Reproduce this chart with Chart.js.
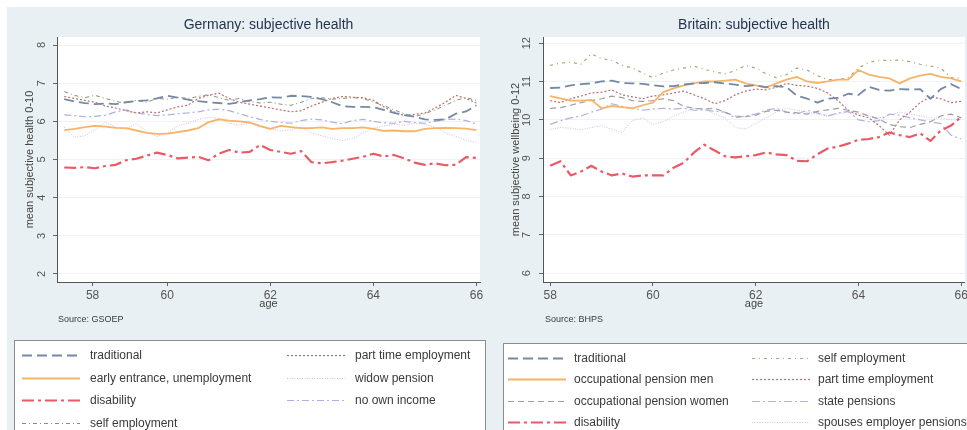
<!DOCTYPE html>
<html>
<head>
<meta charset="utf-8">
<script src="https://cdn.jsdelivr.net/npm/chart.js@4.4.1/dist/chart.umd.min.js"></script>
<style>
  html, body { margin: 0; padding: 0; background: #ffffff; width: 967px; height: 430px; overflow: hidden; }
  #wrap { position: relative; width: 967px; height: 430px; overflow: hidden; }
  canvas { position: absolute; top: 0; }
  #de { left: 0; }
  #gb { left: 490px; }
</style>
</head>
<body>
<div id="wrap">
  <canvas id="de" width="490" height="430"></canvas>
  <canvas id="gb" width="480" height="430"></canvas>
</div>
<script>
// Age grid shared by both panels
const ages = [58.0, 58.2, 58.4, 58.6, 58.8, 59.0, 59.2, 59.4, 59.6, 59.8,
              60.0, 60.2, 60.4, 60.6, 60.8, 61.0, 61.2, 61.4, 61.6, 61.8,
              62.0, 62.2, 62.4, 62.6, 62.8, 63.0, 63.2, 63.4, 63.6, 63.8,
              64.0, 64.2, 64.4, 64.6, 64.8, 65.0, 65.2, 65.4, 65.6, 65.8,
              66.0];

// Germany (GSOEP): mean subjective health 0-10
const deTraditional = [6.58,6.52,6.48,6.45,6.47,6.45,6.5,6.53,6.55,6.6, 6.67,6.62,6.57,6.53,6.5,6.48,6.46,6.5,6.55,6.58, 6.63,6.62,6.67,6.66,6.64,6.58,6.5,6.4,6.38,6.38, 6.37,6.3,6.22,6.16,6.12,6.05,6.04,6.05,6.2,6.26, 6.42];
const deEarly       = [5.77,5.8,5.85,5.88,5.86,5.83,5.82,5.76,5.7,5.67, 5.68,5.72,5.76,5.82,5.98,6.05,6.02,6.0,5.97,5.88, 5.8,5.88,5.85,5.82,5.82,5.84,5.8,5.82,5.82,5.84, 5.8,5.75,5.76,5.74,5.74,5.8,5.82,5.83,5.82,5.81, 5.77];
const deDisability  = [4.79,4.78,4.8,4.77,4.83,4.86,4.98,5.02,5.1,5.18, 5.12,5.03,5.05,5.07,4.98,5.15,5.25,5.18,5.2,5.38, 5.25,5.2,5.15,5.22,4.93,4.9,4.93,4.97,5.02,5.07, 5.15,5.08,5.12,5.03,4.92,4.86,4.9,4.85,4.86,5.06, 5.04];
const deSelf        = [6.78,6.68,6.62,6.68,6.6,6.52,6.48,6.55,6.5,6.6, 6.58,6.63,6.6,6.65,6.7,6.62,6.55,6.6,6.52,6.48, 6.5,6.45,6.42,6.5,6.6,6.62,6.58,6.6,6.62,6.6, 6.5,6.42,6.3,6.2,6.12,6.2,6.3,6.42,6.55,6.62, 6.55];
const dePartTime    = [6.65,6.6,6.55,6.5,6.4,6.35,6.28,6.22,6.25,6.22, 6.3,6.38,6.42,6.6,6.68,6.74,6.6,6.5,6.45,6.4, 6.35,6.3,6.25,6.28,6.4,6.5,6.6,6.65,6.63,6.62, 6.55,6.38,6.25,6.15,6.18,6.22,6.35,6.5,6.68,6.6, 6.48];
const deWidow       = [5.85,5.58,5.62,5.78,5.98,5.85,5.8,5.95,5.75,5.6, 5.7,5.88,5.95,6.05,6.1,6.08,5.95,5.9,5.95,5.85, 5.8,5.75,5.78,5.85,5.7,5.62,5.55,5.5,5.55,5.7, 5.82,5.88,5.92,5.9,5.95,5.92,5.85,5.7,5.6,5.5, 5.45];
const deNoIncome    = [6.17,6.15,6.12,6.13,6.16,6.25,6.3,6.22,6.18,6.15, 6.17,6.2,6.22,6.25,6.3,6.32,6.28,6.2,6.12,6.05, 6.0,5.97,5.95,6.02,6.06,6.04,5.98,5.94,6.02,6.05, 6.0,5.96,5.95,6.0,5.97,5.95,6.0,6.05,6.06,6.02, 5.93];

// Britain (BHPS): mean subjective wellbeing 0-12
const gbTraditional = [10.83,10.84,10.9,10.93,10.95,11.0,11.02,10.96,10.95,10.94, 10.9,10.87,10.88,10.92,10.95,10.96,10.98,10.95,10.92,10.88, 10.9,10.85,10.88,10.85,10.63,10.55,10.45,10.55,10.57,10.68, 10.65,10.86,10.78,10.76,10.8,10.79,10.8,10.55,10.8,10.93, 10.8];
const gbOccMen      = [10.62,10.56,10.5,10.5,10.52,10.3,10.36,10.33,10.3,10.38, 10.45,10.72,10.82,10.9,10.95,11.0,11.0,11.02,11.05,10.95, 10.9,10.84,10.95,11.05,11.12,11.0,10.96,11.0,11.05,11.05, 11.3,11.18,11.12,11.08,10.95,11.08,11.15,11.2,11.12,11.08, 11.0];
const gbOccWomen    = [10.3,10.32,10.38,10.45,10.5,10.55,10.62,10.58,10.5,10.48, 10.5,10.55,10.5,10.35,10.3,10.28,10.3,10.2,10.1,10.08, 10.12,10.22,10.25,10.2,10.18,10.15,10.22,10.26,10.3,10.25, 10.2,10.1,10.02,9.88,9.82,9.8,9.88,9.95,10.1,10.15, 10.05];
const gbDisability  = [8.8,8.92,8.55,8.65,8.8,8.65,8.55,8.6,8.52,8.55, 8.55,8.55,8.75,8.88,9.15,9.35,9.2,9.05,9.02,9.05, 9.08,9.15,9.1,9.08,8.93,8.92,9.1,9.25,9.3,9.38, 9.48,9.5,9.55,9.67,9.6,9.55,9.65,9.45,9.72,9.85, 10.08];
const gbSelf        = [11.42,11.48,11.5,11.45,11.72,11.6,11.55,11.42,11.35,11.22, 11.1,11.22,11.3,11.35,11.4,11.32,11.25,11.2,11.28,11.42, 11.35,11.2,11.1,11.18,11.35,11.3,11.15,11.05,11.05,11.1, 11.35,11.5,11.55,11.55,11.56,11.52,11.45,11.4,11.35,11.1, 11.08];
const gbPartTime    = [10.5,10.45,10.55,10.62,10.7,10.72,10.78,10.65,10.6,10.55, 10.62,10.65,10.7,10.75,10.65,10.55,10.42,10.5,10.65,10.75, 10.8,10.78,10.85,10.95,10.9,10.88,10.82,10.7,10.5,10.25, 10.12,10.05,9.85,9.6,10.0,10.2,10.45,10.6,10.55,10.45, 10.48];
const gbState       = [9.88,9.98,10.05,10.1,10.2,10.28,10.42,10.35,10.3,10.25, 10.28,10.3,10.28,10.3,10.25,10.26,10.22,10.2,10.05,10.1, 10.15,10.25,10.3,10.2,10.15,10.25,10.18,10.1,10.18,10.22, 10.0,9.95,9.98,10.15,10.12,10.05,10.0,9.95,9.9,9.6, 9.5];
const gbSpouses     = [9.75,9.8,9.78,9.74,9.8,9.85,9.75,9.67,9.98,10.05, 9.88,9.95,10.1,10.2,10.3,10.28,10.15,10.05,9.8,9.76, 9.9,10.05,10.2,10.3,10.25,10.2,10.15,10.1,10.15,10.2, 10.15,10.1,10.05,10.12,10.2,10.15,10.1,10.05,10.05,10.0, 10.0];

// Axis ticks
const xTickLabels = ['58', '60', '62', '64', '66'];
const deXTicks = [58.55, 60, 62, 64, 66];
const gbXTicks = [58, 60, 62, 64, 66];
const deYTicks = [2, 3, 4, 5, 6, 7, 8];
const gbYTicks = [6, 7, 8, 9, 10, 11, 12];

const FONT = '"Liberation Sans", Arial, Helvetica, sans-serif';
Chart.defaults.font.family = FONT;
Chart.defaults.animation = false;

const pts = vals => ages.map((a, i) => ({ x: a, y: vals[i] }));
const series = (label, vals, color, width, dash) => ({
  label, data: pts(vals), borderColor: color, borderWidth: width, borderDash: dash,
  pointRadius: 0, fill: false, tension: 0, borderCapStyle: 'butt', borderJoinStyle: 'round'
});

// Panel background, white plot region, title, source note and two-column legend
const panelPlugin = {
  id: 'panel',
  beforeDraw(chart, args, o) {
    const { ctx, chartArea: a } = chart;
    ctx.save();
    ctx.fillStyle = '#e9f0f3';
    ctx.fillRect(o.bg[0], o.bg[1], o.bg[2], o.bg[3]);
    ctx.fillStyle = '#ffffff';
    ctx.fillRect(a.left, a.top, a.right - a.left, a.bottom - a.top);
    ctx.restore();
  },
  afterDraw(chart, args, o) {
    const { ctx, chartArea: a } = chart;
    ctx.save();
    ctx.fillStyle = '#25334f';
    ctx.font = '14px ' + FONT;
    ctx.textAlign = 'center';
    ctx.textBaseline = 'middle';
    ctx.fillText(o.title, (a.left + a.right) / 2, o.titleY);

    ctx.fillStyle = '#3a3a3a';
    ctx.font = '9px ' + FONT;
    ctx.textAlign = 'left';
    ctx.fillText(o.source, o.sourceX, o.sourceY);

    const L = o.legend;
    ctx.fillStyle = '#ffffff';
    ctx.fillRect(L.x, L.y, L.w, L.h);
    ctx.strokeStyle = '#8c8c8c';
    ctx.lineWidth = 1;
    ctx.strokeRect(L.x + 0.5, L.y + 0.5, L.w, L.h);

    chart.data.datasets.forEach((ds, i) => {
      const col = Math.floor(i / L.perCol);
      const row = i % L.perCol;
      const y = Math.round(L.rowY + row * L.rowGap) + 0.5;
      const sx = L.cols[col];
      ctx.save();
      ctx.strokeStyle = ds.borderColor;
      ctx.lineWidth = ds.borderWidth;
      ctx.setLineDash(ds.borderDash || []);
      ctx.beginPath();
      ctx.moveTo(sx, y);
      ctx.lineTo(sx + L.sample, y);
      ctx.stroke();
      ctx.restore();
      ctx.fillStyle = '#3a3a3a';
      ctx.font = '12px ' + FONT;
      ctx.textAlign = 'left';
      ctx.textBaseline = 'middle';
      ctx.fillText(ds.label, sx + L.sample + L.gap, y);
    });
    ctx.restore();
  }
};

function makeOptions(cfg) {
  return {
    responsive: false,
    animation: false,
    events: [],
    layout: { padding: { left: 0, top: 37, right: cfg.padRight, bottom: 115 } },
    plugins: {
      legend: { display: false },
      tooltip: { enabled: false },
      panel: cfg.panel
    },
    scales: {
      x: {
        type: 'linear',
        min: 57.86,
        max: 66.07,
        afterBuildTicks: s => { s.ticks = cfg.xTicks.map(v => ({ value: v })); },
        afterFit: s => { s.height = 33; },
        ticks: {
          autoSkip: false, maxRotation: 0, minRotation: 0, padding: 2,
          font: { size: 12 }, color: '#555555',
          callback: (v, i) => xTickLabels[i]
        },
        grid: { drawOnChartArea: false, drawTicks: true, tickLength: 4, tickColor: '#666666' },
        border: { display: true, color: '#555555', width: 1 },
        title: { display: true, text: 'age', font: { size: 11 }, color: '#444444', padding: { top: 0, bottom: 4 } }
      },
      y: {
        type: 'linear',
        min: cfg.yMin,
        max: cfg.yMax,
        afterBuildTicks: s => { s.ticks = cfg.yTicks.map(v => ({ value: v })); },
        afterFit: s => { s.width = cfg.yWidth; },
        ticks: {
          minRotation: 90, maxRotation: 90, crossAlign: 'center', padding: cfg.yTickPad,
          font: { size: 11 }, color: '#555555'
        },
        grid: { color: '#eef2f5', lineWidth: 1, tickLength: 4, tickColor: '#666666' },
        border: { display: true, color: '#555555', width: 1 },
        title: { display: true, text: cfg.yTitle, font: { size: 11 }, color: '#444444', padding: { top: cfg.yTitlePad, bottom: 0 } }
      }
    }
  };
}

const TRAD = '#7489a6', ORANGE = '#f6b468', RED = '#ea5a66';

new Chart(document.getElementById('de'), {
  type: 'line',
  data: {
    datasets: [
      series('traditional', deTraditional, TRAD, 1.8, [10, 5]),
      series('early entrance, unemployment', deEarly, ORANGE, 1.8, []),
      series('disability', deDisability, RED, 2.2, [12, 4, 3, 4]),
      series('self employment', deSelf, '#84906f', 1, [4, 3, 1, 3]),
      series('part time employment', dePartTime, '#b87070', 1.2, [2, 2]),
      series('widow pension', deWidow, '#dab6de', 1, [1, 1.5]),
      series('no own income', deNoIncome, '#acb0e6', 1.2, [7, 3, 2, 3])
    ]
  },
  options: makeOptions({
    padRight: 10, xTicks: deXTicks, yTicks: deYTicks, yMin: 1.79, yMax: 8.21,
    yWidth: 57, yTickPad: 8, yTitle: 'mean subjective health 0-10', yTitlePad: 23,
    panel: {
      bg: [7, 7, 483, 423], title: 'Germany: subjective health', titleY: 25,
      source: 'Source: GSOEP', sourceX: 58, sourceY: 320,
      legend: { x: 14, y: 340, w: 471, h: 100, perCol: 4, rowY: 355, rowGap: 22.7, cols: [22, 287], sample: 58, gap: 10 }
    }
  }),
  plugins: [panelPlugin]
});

new Chart(document.getElementById('gb'), {
  type: 'line',
  data: {
    datasets: [
      series('traditional', gbTraditional, TRAD, 1.8, [10, 5]),
      series('occupational pension men', gbOccMen, ORANGE, 1.8, []),
      series('occupational pension women', gbOccWomen, '#9e9e9e', 1.2, [6, 4]),
      series('disability', gbDisability, RED, 2.2, [12, 4, 3, 4]),
      series('self employment', gbSelf, '#a8a670', 1.2, [3, 4, 1, 4]),
      series('part time employment', gbPartTime, '#b87070', 1.2, [2, 2]),
      series('state pensions', gbState, '#acb2e4', 1.2, [8, 3, 2, 3]),
      series('spouses employer pensions', gbSpouses, '#dab8dc', 1, [1, 1.5])
    ]
  },
  options: makeOptions({
    padRight: 4, xTicks: gbXTicks, yTicks: gbYTicks, yMin: 5.77, yMax: 12.16,
    yWidth: 53, yTickPad: 6, yTitle: 'mean subjective wellbeing 0-12', yTitlePad: 19,
    panel: {
      bg: [0, 7, 480, 423], title: 'Britain: subjective health', titleY: 25,
      source: 'Source: BHPS', sourceX: 55, sourceY: 320,
      legend: { x: 13, y: 343, w: 480, h: 100, perCol: 4, rowY: 358, rowGap: 21.3, cols: [18, 262], sample: 58, gap: 8 }
    }
  }),
  plugins: [panelPlugin]
});
</script>
</body>
</html>
